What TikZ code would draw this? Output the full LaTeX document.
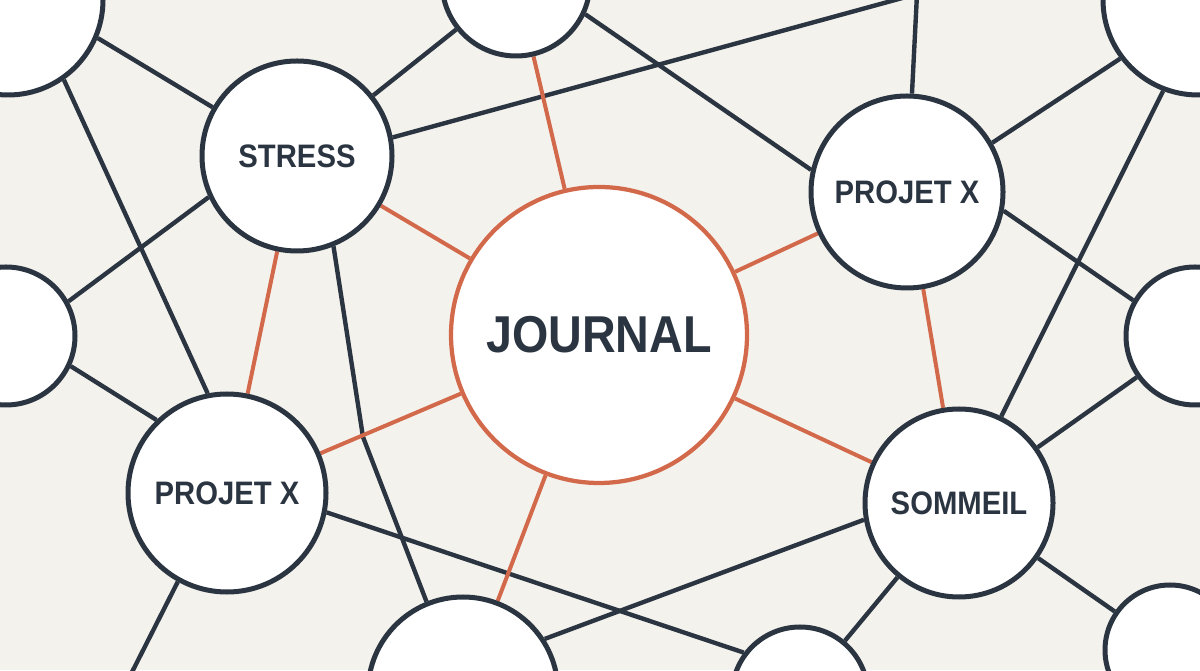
\documentclass[tikz,border=0pt]{standalone}
\usepackage{fontspec}
\newfontfamily\nodefont{Liberation Sans}[FakeStretch=0.90]
\usetikzlibrary{backgrounds}
\definecolor{inkdark}{HTML}{2B3541}
\definecolor{inkorange}{HTML}{D3694B}
\definecolor{paper}{HTML}{F4F2ED}
\tikzset{
  topic/.style={circle, draw=inkdark, line width=0.1cm, fill=white, inner sep=0pt,
    text=inkdark, font=\nodefont\bfseries\fontsize{18.5}{20}\selectfont},
  hub/.style={topic, draw=inkorange, line width=0.085cm,
    font=\nodefont\bfseries\fontsize{29.5}{32}\selectfont},
  darklink/.style={draw=inkdark, line width=0.088cm},
  hotlink/.style={draw=inkorange, line width=0.08cm},
}
\begin{document}
\begin{tikzpicture}
            \useasboundingbox (0.000000,0.000000) rectangle (24.000000,13.400000);

            % Central circle JOURNAL
            \node [hub, minimum size=5.920000cm] (journal) at (11.980000,6.700000) {JOURNAL};%

            % Labelled circles
            \node [topic, minimum size=3.800000cm] (stress) at (5.940000,10.280000) {STRESS};%
            \node [topic, minimum size=3.840000cm] (projetA) at (18.140000,9.560000) {PROJET X};%
            \node [topic, minimum size=3.960000cm] (projetB) at (4.540000,3.540000) {PROJET X};%
            \node [topic, minimum size=3.760000cm] (sommeil) at (19.180000,3.340000) {SOMMEIL};%

            % Empty circles at the borders
            \node [topic, minimum size=2.960000cm] (topmid) at (10.320000,13.760000) {};%
            \node [topic, minimum size=3.800000cm] (topleft) at (0.160000,13.400000) {};%
            \node [topic, minimum size=3.800000cm] (topright) at (23.960000,13.400000) {};%
            \node [topic, minimum size=2.760000cm] (midleft) at (0.120000,6.680000) {};%
            \node [topic, minimum size=2.760000cm] (midright) at (23.900000,6.680000) {};%
            \node [topic, minimum size=3.800000cm] (botA) at (9.260000,-0.440000) {};%
            \node [topic, minimum size=2.720000cm] (botB) at (16.000000,-0.500000) {};%
            \node [topic, minimum size=2.600000cm] (botright) at (23.400000,0.400000) {};%

            % Free ends and bend
            \coordinate (hidtop) at (18.340000,13.520000);%
            \coordinate (offbl) at (2.560000,-0.200000);%
            \coordinate (bendSB) at (7.260000,4.660000);%

            \begin{scope}[on background layer]
            \fill [paper] (0.000000,0.000000) rectangle (24.000000,13.400000);%

            % Drawing dark links
            \draw [darklink] (topleft.-23) -- (stress.150);%
            \draw [darklink] (topleft.-55) -- (projetB.101);%
            \draw [darklink] (stress.-155) -- (midleft.29);%
            \draw [darklink] (stress) -- (topmid);%
            \draw [darklink] (stress.11) -- (hidtop);%
            \draw [darklink] (projetA) -- (hidtop);%
            \draw [darklink] (topmid.-25) -- (projetA.167);%
            \draw [darklink] (projetA.30) -- (topright.-143);%
            \draw [darklink] (topright.-111) -- (sommeil.64);%
            \draw [darklink] (projetA.-11) -- (midright.150);%
            \draw [darklink] (sommeil) -- (midright);%
            \draw [darklink] (sommeil) -- (botright);%
            \draw [darklink] (sommeil) -- (botB);%
            \draw [darklink] (sommeil.-170) -- (botA.33);%
            \draw [darklink] (projetB.-11) -- (botB.143);%
            \draw [darklink] (stress.-68) -- (bendSB) -- (botA.112);%
            \draw [darklink] (projetB.-119) -- (offbl);%
            \draw [darklink] (projetB.134) -- (midleft.-25);%

            % Drawing orange links of JOURNAL
            \draw [hotlink] (journal) -- (topmid);%
            \draw [hotlink] (journal) -- (stress);%
            \draw [hotlink] (journal) -- (projetA);%
            \draw [hotlink] (journal) -- (projetB);%
            \draw [hotlink] (journal) -- (botA);%
            \draw [hotlink] (journal) -- (sommeil);%
            \draw [hotlink] (stress) -- (projetB);%
            \draw [hotlink] (projetA) -- (sommeil);%
            \end{scope}
        \end{tikzpicture}
\end{document}
